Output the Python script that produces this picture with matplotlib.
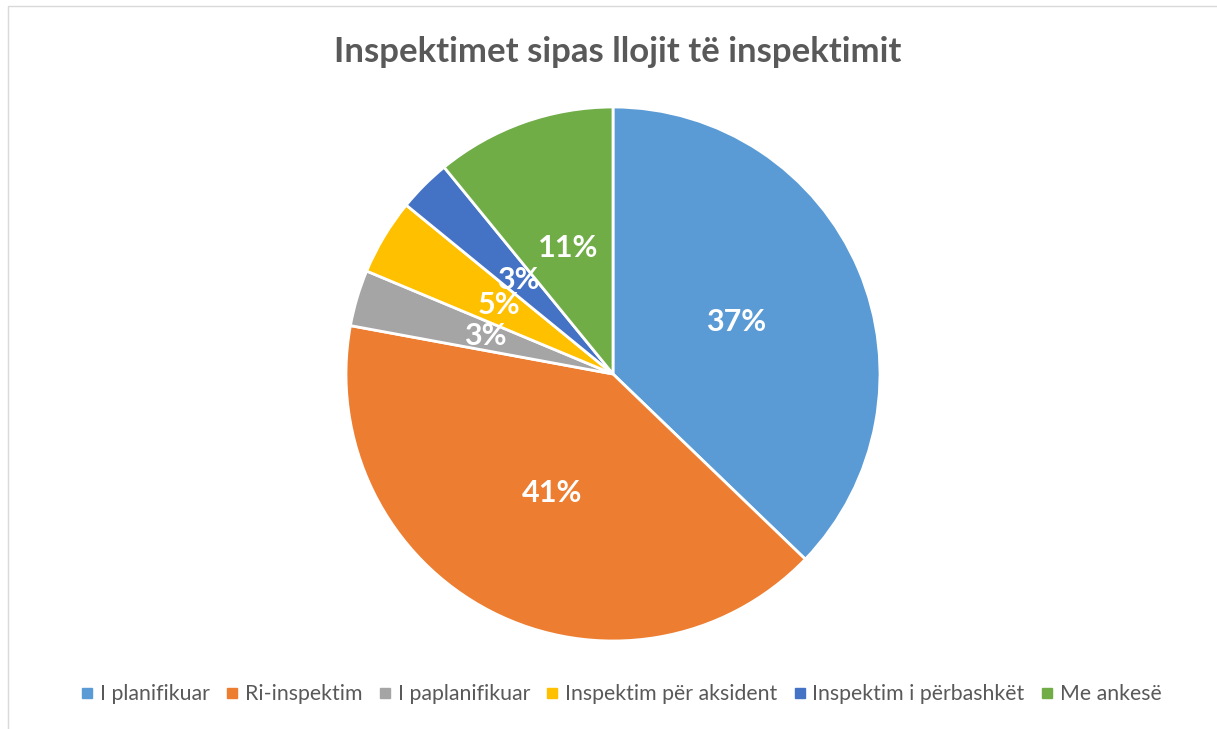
import matplotlib.pyplot as plt
from matplotlib.patches import Rectangle
from matplotlib.lines import Line2D

plt.rcParams['font.family'] = ['Lato', 'DejaVu Sans']

# Data
categories = ['I planifikuar', 'Ri-inspektim', 'I paplanifikuar',
              'Inspektim për aksident', 'Inspektim i përbashkët', 'Me ankesë']
shares = [37.2, 40.7, 3.4, 4.6, 3.2, 10.9]
colors = ['#5B9BD5', '#ED7D31', '#A5A5A5', '#FFC000', '#4472C4', '#70AD47']
title = 'Inspektimet sipas llojit të inspektimit'

W, H = 1217, 729
fig = plt.figure(figsize=(W / 100, H / 100), dpi=100)

# light frame around chart area (open at right and bottom)
fig.patches.append(Rectangle((8 / W, -0.05), (W + 10) / W, 1.05 - 6 / H,
                             transform=fig.transFigure, fill=False,
                             edgecolor='#D9D9D9', linewidth=1))

# pie axes: centre (613, 374), radius 267 px
cx, cy, r = 613, 374, 267
ax = fig.add_axes([(cx - r) / W, 1 - (cy + r) / H, 2 * r / W, 2 * r / H])
wedges, texts, autotexts = ax.pie(
    shares, colors=colors, startangle=90, counterclock=False,
    autopct='%1.0f%%', pctdistance=0.5,
    wedgeprops=dict(edgecolor='white', linewidth=2),
    textprops=dict(color='white', fontsize=22, fontweight='bold'))
ax.set_xlim(-1, 1)
ax.set_ylim(-1, 1)
ax.set_aspect('equal')
ax.axis('off')

fig.text(cx / W + 0.004, 1 - 52 / H, title, ha='center', va='center',
         fontsize=25, fontweight='bold', color='#595959')

handles = [Line2D([], [], marker='s', linestyle='', markersize=7,
                  markerfacecolor=c, markeredgecolor=c) for c in colors]
fig.legend(handles, categories, loc='center', bbox_to_anchor=(619 / W, 1 - 694 / H),
           ncol=6, frameon=False, fontsize=15.3, labelcolor='#595959',
           handletextpad=0.1, columnspacing=0.55, handlelength=1.0)

fig.savefig('out.png', dpi=100, facecolor='white')
